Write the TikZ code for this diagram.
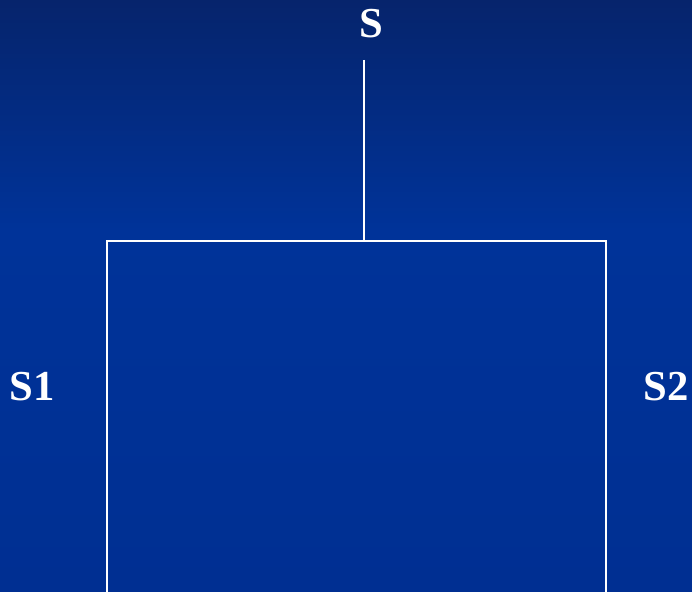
\documentclass[tikz,border=0pt]{standalone}
\usepackage{fontspec}
\setmainfont{Liberation Serif}
\usepackage{tikz}
\usetikzlibrary{positioning,calc}
\definecolor{slidetop}{RGB}{6,36,108}
\definecolor{slidemid}{RGB}{0,51,153}
\definecolor{slidebot}{RGB}{0,47,146}
\tikzset{
  lbl/.style  = {text=white, font=\fontsize{32}{38}\selectfont\bfseries, inner sep=0pt},
  branch/.style = {draw=white, line width=1.5pt},
}
\begin{document}
\begin{tikzpicture}[x=0.75pt, y=-0.75pt]
  % background
  \shade[top color=slidetop, bottom color=slidemid] (0,0) rectangle (692,230);
  \shade[top color=slidemid, bottom color=slidebot] (0,229.5) rectangle (692,592);
  \useasboundingbox (0,0) rectangle (692,592);
  % labels
  \node[lbl] (s)  at (371,24)  {S};
  \node[lbl] (s1) at (32,387)  {S1};
  \node[lbl] (s2) at (666,387) {S2};
  % tree
  \coordinate (stem)  at (364,60);
  \coordinate (join)  at (364,241);
  \coordinate (lt)    at (107,241);
  \coordinate (rt)    at (606,241);
  \coordinate (lend)  at (107,592);
  \coordinate (rend)  at (606,592);
  \draw[branch] (stem) -- (join);
  \draw[branch] (lend) -- (lt) -- (rt) -- (rend);
\end{tikzpicture}
\end{document}
